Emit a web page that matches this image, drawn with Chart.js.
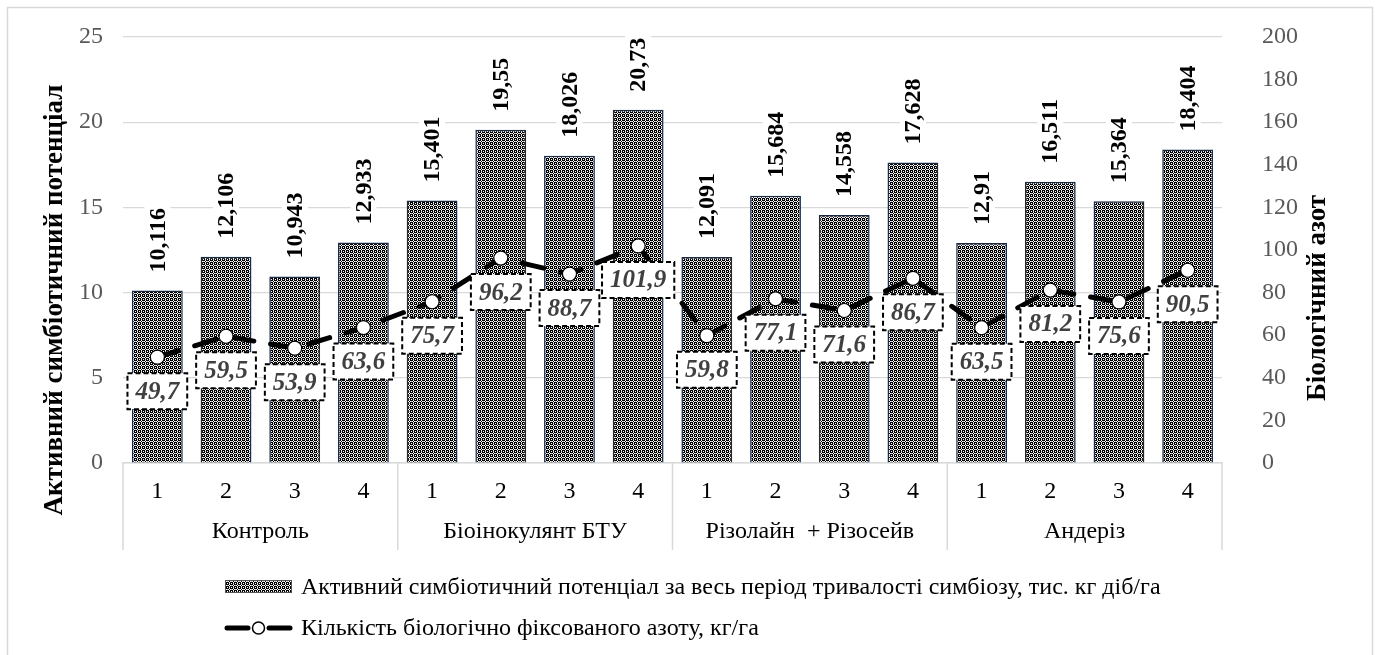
<!DOCTYPE html>
<html>
<head>
<meta charset="utf-8">
<script src="https://cdn.jsdelivr.net/npm/chart.js@4.4.1/dist/chart.umd.min.js"></script>
<style>
  html, body { margin: 0; padding: 0; background: #fff; }
  #wrap { width: 1379px; height: 655px; }
</style>
</head>
<body>
<div id="wrap"><canvas id="c" width="1379" height="655"></canvas></div>
<script>
const categories = ['1','2','3','4','1','2','3','4','1','2','3','4','1','2','3','4'];
const groups = ['Контроль', 'Біоінокулянт БТУ', 'Різолайн  + Різосейв', 'Андеріз'];
const groupSize = 4;
const potential = [10.116, 12.106, 10.943, 12.933, 15.401, 19.55, 18.026, 20.73, 12.091, 15.684, 14.558, 17.628, 12.91, 16.511, 15.364, 18.404];
const nitrogen = [49.7, 59.5, 53.9, 63.6, 75.7, 96.2, 88.7, 101.9, 59.8, 77.1, 71.6, 86.7, 63.5, 81.2, 75.6, 90.5];
const leftAxis = { min: 0, max: 25, step: 5, title: 'Активний симбіотичний потенціал' };
const rightAxis = { min: 0, max: 200, step: 20, title: 'Біологічний азот' };
const barLegend = 'Активний симбіотичний потенціал за весь період тривалості симбіозу, тис. кг діб/га';
const lineLegend = 'Кількість біологічно фіксованого азоту, кг/га';

const SERIF = '"Liberation Serif", "Times New Roman", serif';
const fmt = v => String(v).replace('.', ',');

// hatch pattern
function makePattern() {
  const t = document.createElement('canvas');
  t.width = 4; t.height = 4;
  const g = t.getContext('2d');
  g.fillStyle = '#000'; g.fillRect(0, 0, 4, 4);
  g.fillStyle = '#fff';
  [[1,0],[0,1],[2,1],[1,2],[3,3]].forEach(p => g.fillRect(p[0], p[1], 1, 1));
  g.fillStyle = '#bdbdbd';
  [[3,1],[1,3]].forEach(p => g.fillRect(p[0], p[1], 1, 1));
  return document.getElementById('c').getContext('2d').createPattern(t, 'repeat');
}
const pattern = makePattern();

const decor = {
  id: 'decor',
  beforeDraw(chart) {
    const ctx = chart.ctx;
    ctx.save();
    ctx.fillStyle = '#fff';
    ctx.fillRect(0, 0, chart.width, chart.height);
    ctx.strokeStyle = '#d9d9d9';
    ctx.lineWidth = 1.5;
    ctx.strokeRect(7.5, 7.5, 1365, 700);
    ctx.restore();
  },
  afterDatasetsDraw(chart) {
    const ctx = chart.ctx;
    const barMeta = chart.getDatasetMeta(1);
    const lineMeta = chart.getDatasetMeta(0);
    ctx.save();
    // bar labels (rotated)
    ctx.font = 'bold 24px ' + SERIF;
    barMeta.data.forEach((el, i) => {
      const txt = fmt(potential[i]);
      const w = ctx.measureText(txt).width;
      ctx.save();
      ctx.translate(el.x, el.y - 18);
      ctx.rotate(-Math.PI / 2);
      ctx.fillStyle = '#fff';
      ctx.fillRect(-2, -13, w + 4, 26);
      ctx.fillStyle = '#000';
      ctx.textAlign = 'left';
      ctx.textBaseline = 'middle';
      ctx.fillText(txt, 0, 1);
      ctx.restore();
    });
    // line labels (boxes)
    ctx.font = 'italic bold 25px ' + SERIF;
    lineMeta.data.forEach((el, i) => {
      const txt = fmt(nitrogen[i]);
      const w = ctx.measureText(txt).width + 16;
      const h = 36;
      const cx = el.x, cy = el.y + 34;
      ctx.fillStyle = '#fff';
      ctx.fillRect(cx - w / 2, cy - h / 2, w, h);
      ctx.setLineDash([5, 3]);
      ctx.lineWidth = 2;
      ctx.strokeStyle = '#000';
      ctx.strokeRect(cx - w / 2, cy - h / 2, w, h);
      ctx.setLineDash([]);
      ctx.fillStyle = '#404040';
      ctx.textAlign = 'center';
      ctx.textBaseline = 'middle';
      ctx.fillText(txt, cx, cy + 1);
    });
    ctx.restore();
  },
  afterDraw(chart) {
    const ctx = chart.ctx;
    const x = chart.scales.x;
    const area = chart.chartArea;
    ctx.save();
    // group separators and labels
    ctx.strokeStyle = '#d9d9d9';
    ctx.lineWidth = 1.5;
    const nG = groups.length;
    const bounds = [];
    for (let g = 0; g <= nG; g++) {
      let px;
      if (g === 0) px = area.left;
      else if (g === nG) px = area.right;
      else px = (x.getPixelForValue(g * groupSize - 1) + x.getPixelForValue(g * groupSize)) / 2;
      bounds.push(px);
      ctx.beginPath();
      ctx.moveTo(px, area.bottom);
      ctx.lineTo(px, 550);
      ctx.stroke();
    }
    ctx.fillStyle = '#000';
    ctx.font = '24px ' + SERIF;
    ctx.textAlign = 'center';
    ctx.textBaseline = 'middle';
    groups.forEach((g, i) => {
      ctx.fillText(g, (bounds[i] + bounds[i + 1]) / 2, 532);
    });
    // axis titles
    ctx.font = 'bold 27px ' + SERIF;
    ctx.fillStyle = '#000';
    ctx.save();
    ctx.translate(55, 300);
    ctx.rotate(-Math.PI / 2);
    ctx.fillText(leftAxis.title, 0, 0);
    ctx.restore();
    ctx.save();
    ctx.translate(1318, 298);
    ctx.rotate(-Math.PI / 2);
    ctx.fillText(rightAxis.title, 0, 0);
    ctx.restore();
    // legend
    ctx.font = '24px ' + SERIF;
    ctx.textAlign = 'left';
    ctx.fillStyle = pattern;
    ctx.fillRect(225, 580, 67, 13);
    ctx.strokeStyle = '#555';
    ctx.lineWidth = 1;
    ctx.strokeRect(225.5, 580.5, 66, 12);
    ctx.fillStyle = '#000';
    ctx.fillText(barLegend, 301, 588);
    ctx.strokeStyle = '#000';
    ctx.lineWidth = 5;
    ctx.lineCap = 'round';
    ctx.beginPath(); ctx.moveTo(227, 628); ctx.lineTo(248, 628); ctx.stroke();
    ctx.beginPath(); ctx.moveTo(269, 628); ctx.lineTo(290, 628); ctx.stroke();
    ctx.lineWidth = 1.5;
    ctx.fillStyle = '#fff';
    ctx.beginPath(); ctx.arc(258.5, 628, 6, 0, Math.PI * 2); ctx.fill(); ctx.stroke();
    ctx.fillStyle = '#000';
    ctx.fillText(lineLegend, 301, 629);
    ctx.restore();
  }
};

new Chart(document.getElementById('c'), {
  type: 'bar',
  data: {
    labels: categories,
    datasets: [
      {
        type: 'line',
        label: lineLegend,
        data: nitrogen,
        yAxisID: 'y1',
        borderColor: '#000',
        borderWidth: 5,
        borderDash: [22, 17],
        borderCapStyle: 'round',
        pointRadius: 7,
        pointBackgroundColor: '#fff',
        pointBorderColor: '#000',
        pointBorderWidth: 1.2,
        tension: 0,
        order: 0
      },
      {
        type: 'bar',
        label: barLegend,
        data: potential,
        yAxisID: 'y',
        backgroundColor: pattern,
        borderColor: '#1b2b45',
        borderWidth: 1.5,
        categoryPercentage: 1,
        barPercentage: 0.74,
        order: 1
      }
    ]
  },
  options: {
    responsive: false,
    animation: false,
    layout: { padding: { top: 37, left: 0, right: 0, bottom: 0 } },
    plugins: { legend: { display: false }, tooltip: { enabled: false } },
    scales: {
      x: {
        grid: { display: false, drawTicks: false },
        border: { display: true, color: '#d9d9d9', width: 1.5 },
        ticks: { font: { family: SERIF, size: 24 }, color: '#000', padding: 14, maxRotation: 0, autoSkip: false },
        afterFit: s => { s.height = 192; }
      },
      y: {
        position: 'left',
        min: leftAxis.min, max: leftAxis.max,
        ticks: { stepSize: leftAxis.step, font: { family: SERIF, size: 24 }, color: '#595959', padding: 2 },
        grid: { color: '#d9d9d9', lineWidth: 1.2, drawTicks: true, tickLength: 18, tickColor: 'rgba(0,0,0,0)' },
        border: { display: false },
        afterFit: s => { s.width = 123; }
      },
      y1: {
        position: 'right',
        min: rightAxis.min, max: rightAxis.max,
        ticks: { stepSize: rightAxis.step, font: { family: SERIF, size: 24 }, color: '#595959', padding: 2 },
        grid: { display: false, drawTicks: true, tickLength: 38 },
        border: { display: false },
        afterFit: s => { s.width = 157; }
      }
    }
  },
  plugins: [decor]
});
</script>
</body>
</html>
